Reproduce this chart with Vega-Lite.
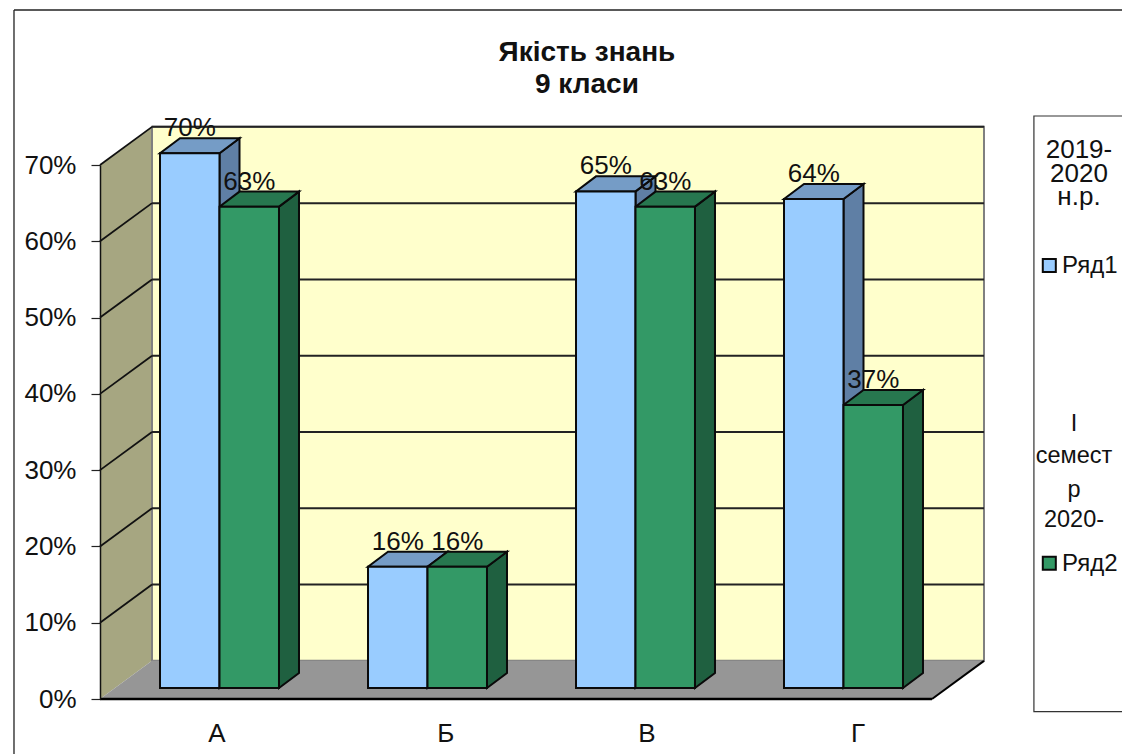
{
"$schema":"https://vega.github.io/schema/vega-lite/v6.json",
"width":1022,"height":534,
"autosize":{"type":"none"},
"padding":{"left":100,"top":165,"right":0,"bottom":55},
"background":"white",
"config":{"view":{"stroke":null},"axisX":{"disable":true},"text":{"font":"Liberation Sans"}},
"resolve":{"axis":{"y":"independent"}},
"datasets":{
"bars":[
{"class":"А","series":"Ряд1","value":0.701},
{"class":"А","series":"Ряд2","value":0.631},
{"class":"Б","series":"Ряд1","value":0.159},
{"class":"Б","series":"Ряд2","value":0.159},
{"class":"В","series":"Ряд1","value":0.651},
{"class":"В","series":"Ряд2","value":0.631},
{"class":"Г","series":"Ряд1","value":0.641},
{"class":"Г","series":"Ряд2","value":0.371}
],
"ticks":[{"v":0.1},{"v":0.2},{"v":0.3},{"v":0.4},{"v":0.5},{"v":0.6},{"v":0.7}],
"one":[{"n":1}],
"cats":[{"class":"А"},{"class":"Б"},{"class":"В"},{"class":"Г"}],
"titleLines":[{"k":0,"t":"Якість знань"},{"k":1,"t":"9 класи"}],
"legendText":[
{"k":0,"t":"2019-"},{"k":1,"t":"2020"},{"k":2,"t":"н.р."},
{"k":3,"t":"І"},{"k":4,"t":"семест"},{"k":5,"t":"р"},{"k":6,"t":"2020-"}
],
"legendEntries":[{"series":"Ряд1"},{"series":"Ряд2"}]
},
"layer":[
{"data":{"values":[{"c":0},{"c":1}]},
 "transform":[{"calculate":"datum.c*0.25","as":"px"},{"calculate":"datum.c*0.05","as":"a"},{"calculate":"0.7+datum.c*0.05","as":"b"}],
 "mark":{"type":"area","fill":"#A6A681"},
 "encoding":{
  "x":{"field":"px","type":"quantitative","scale":{"domain":[0,4.9135],"nice":false,"zero":false},"axis":null},
  "y":{"field":"a","type":"quantitative","scale":{"domain":[0,0.7],"nice":false,"zero":false},
   "axis":{"orient":"left","title":null,"values":[0,0.1,0.2,0.3,0.4,0.5,0.6,0.7],"format":".0%","labelFont":"Liberation Sans","labelFontSize":26,"labelColor":"#111","labelPadding":15,"tickSize":9,"tickColor":"#222","tickWidth":1.2,"domainColor":"#111","domainWidth":1.5,"grid":false,"zindex":1}},
  "y2":{"field":"b"}}},
{"data":{"name":"one"},"mark":{"type":"rect","fill":"#FFFFCC","stroke":"#808080","strokeWidth":2},
 "encoding":{"x":{"datum":0.25,"axis":null},"x2":{"datum":4.25},"y":{"datum":0.05,"axis":null},"y2":{"datum":0.75}}},
{"data":{"values":[{"c":0},{"c":1},{"c":2},{"c":3}]},
 "transform":[{"calculate":"[0,0.25,4,4.25][datum.c]","as":"px"},{"calculate":"[0,0,0,0.05][datum.c]","as":"a"},{"calculate":"[0,0.05,0.05,0.05][datum.c]","as":"b"}],
 "mark":{"type":"area","fill":"#969696"},
 "encoding":{"x":{"field":"px","type":"quantitative","axis":null},"y":{"field":"a","type":"quantitative","axis":null},"y2":{"field":"b"}}},
{"data":{"name":"ticks"},
 "transform":[{"calculate":"datum.v+0.05","as":"w"}],
 "mark":{"type":"rule","color":"#111","strokeWidth":1.8},
 "encoding":{"x":{"datum":0,"axis":null},"x2":{"datum":0.25},"y":{"field":"v","type":"quantitative","axis":null},"y2":{"field":"w"}}},
{"data":{"name":"ticks"},
 "transform":[{"calculate":"datum.v+0.05","as":"w"}],
 "mark":{"type":"rule","color":"#222","strokeWidth":2},
 "encoding":{"x":{"datum":0.25,"axis":null},"x2":{"datum":4.25},"y":{"field":"w","type":"quantitative","axis":null}}},
{"data":{"name":"one"},"mark":{"type":"rule","color":"#000","strokeWidth":2.5},
 "encoding":{"x":{"datum":0,"axis":null},"x2":{"datum":4},"y":{"datum":0,"axis":null}}},
{"data":{"name":"one"},"mark":{"type":"rule","color":"#000","strokeWidth":2},
 "encoding":{"x":{"datum":4,"axis":null},"x2":{"datum":4.25},"y":{"datum":0,"axis":null},"y2":{"datum":0.05}}},
{"data":{"name":"bars"},
 "transform":[
  {"calculate":"indexof(['А','Б','В','Г'],datum.class)+0.2885+(datum.series=='Ряд1'?0:0.286)","as":"left"},
  {"calculate":"datum.left+0.286","as":"right"},
  {"calculate":"datum.value+0.0144","as":"top"},
  {"calculate":"[0,1]","as":"c"},{"flatten":["c"]},
  {"calculate":"datum.right+datum.c*0.0962","as":"px"},
  {"calculate":"0.0144+datum.c*0.0197","as":"a"},
  {"calculate":"datum.top+datum.c*0.0197","as":"b"},
  {"calculate":"datum.series+' side'","as":"part"},
  {"calculate":"datum.class+datum.series","as":"key"}],
 "mark":{"type":"area","stroke":"#0a0a0a","strokeWidth":2},
 "encoding":{"x":{"field":"px","type":"quantitative","axis":null},"y":{"field":"a","type":"quantitative","axis":null},"y2":{"field":"b"},"detail":{"field":"key"},
  "fill":{"field":"part","type":"nominal","legend":null,"scale":{"domain":["Ряд1 front","Ряд1 top","Ряд1 side","Ряд2 front","Ряд2 top","Ряд2 side"],"range":["#99CCFF","#759CC6","#5F7FA5","#339966","#27774F","#1F6040"]}}}},
{"data":{"name":"bars"},
 "transform":[
  {"calculate":"indexof(['А','Б','В','Г'],datum.class)+0.2885+(datum.series=='Ряд1'?0:0.286)","as":"left"},
  {"calculate":"datum.value+0.0144","as":"top"},
  {"calculate":"[0,1,2,3]","as":"c"},{"flatten":["c"]},
  {"calculate":"datum.left+[0,0.0962,0.286,0.3822][datum.c]","as":"px"},
  {"calculate":"datum.top+[0,0,0,0.0197][datum.c]","as":"a"},
  {"calculate":"datum.top+[0,0.0197,0.0197,0.0197][datum.c]","as":"b"},
  {"calculate":"datum.series+' top'","as":"part"},
  {"calculate":"datum.class+datum.series","as":"key"}],
 "mark":{"type":"area","stroke":"#0a0a0a","strokeWidth":2},
 "encoding":{"x":{"field":"px","type":"quantitative","axis":null},"y":{"field":"a","type":"quantitative","axis":null},"y2":{"field":"b"},"detail":{"field":"key"},
  "fill":{"field":"part","type":"nominal","legend":null}}},
{"data":{"name":"bars"},
 "transform":[
  {"calculate":"indexof(['А','Б','В','Г'],datum.class)+0.2885+(datum.series=='Ряд1'?0:0.286)","as":"left"},
  {"calculate":"datum.left+0.286","as":"right"},
  {"calculate":"datum.value+0.0144","as":"top"},
  {"calculate":"0.0144","as":"base"},
  {"calculate":"datum.series+' front'","as":"part"}],
 "mark":{"type":"rect","stroke":"#0a0a0a","strokeWidth":2},
 "encoding":{"x":{"field":"left","type":"quantitative","axis":null},"x2":{"field":"right"},"y":{"field":"base","type":"quantitative","axis":null},"y2":{"field":"top"},
  "fill":{"field":"part","type":"nominal","legend":null}}},
{"data":{"name":"bars"},
 "transform":[
  {"calculate":"indexof(['А','Б','В','Г'],datum.class)+0.2885+(datum.series=='Ряд1'?0.143:0.429)","as":"mid"},
  {"calculate":"datum.value+0.0144+0.0223","as":"ly"}],
 "mark":{"type":"text","fontSize":26,"color":"#111","align":"center","baseline":"alphabetic"},
 "encoding":{"x":{"field":"mid","type":"quantitative","axis":null},"y":{"field":"ly","type":"quantitative","axis":null},"text":{"field":"value","type":"quantitative","format":".0%"}}},
{"data":{"name":"cats"},
 "transform":[{"calculate":"[0.5625,1.663,2.63,3.644][indexof(['А','Б','В','Г'],datum.class)]","as":"lx"},{"calculate":"-0.056","as":"ly"}],
 "mark":{"type":"text","fontSize":26,"color":"#111","align":"center","baseline":"alphabetic"},
 "encoding":{"x":{"field":"lx","type":"quantitative","axis":null},"y":{"field":"ly","type":"quantitative","axis":null},"text":{"field":"class"}}},
{"data":{"name":"titleLines"},
 "transform":[{"calculate":"2.341","as":"lx"},{"calculate":"datum.k==0?0.8363:0.794","as":"ly"}],
 "mark":{"type":"text","fontSize":28,"fontWeight":"bold","color":"#111","align":"center","baseline":"alphabetic"},
 "encoding":{"x":{"field":"lx","type":"quantitative","axis":null},"y":{"field":"ly","type":"quantitative","axis":null},"text":{"field":"t"}}},
{"data":{"name":"one"},"mark":{"type":"rule","color":"#222","strokeWidth":1.3},
 "encoding":{"x":{"datum":-0.4135,"axis":null},"x2":{"datum":4.9135},"y":{"datum":0.9032,"axis":null}}},
{"data":{"name":"one"},"mark":{"type":"rule","color":"#222","strokeWidth":1.3},
 "encoding":{"x":{"datum":-0.4135,"axis":null},"y":{"datum":0.9032,"axis":null},"y2":{"datum":-0.08}}},
{"data":{"name":"one"},"mark":{"type":"rect","fill":"white","stroke":"#333","strokeWidth":1.2},
 "encoding":{"x":{"datum":4.49,"axis":null},"x2":{"datum":5},"y":{"datum":0.7642,"axis":null},"y2":{"datum":-0.01665}}},
{"data":{"name":"legendText"},
 "transform":[
  {"calculate":"[4.7067,4.7067,4.7067,4.6827,4.6827,4.6827,4.6827][datum.k]","as":"lx"},
  {"calculate":"[0.7088,0.6773,0.6476,0.3517,0.3094,0.2648,0.2255][datum.k]","as":"ly"}],
 "mark":{"type":"text","color":"#111","align":"center","baseline":"alphabetic"},
 "encoding":{"x":{"field":"lx","type":"quantitative","axis":null},"y":{"field":"ly","type":"quantitative","axis":null},"text":{"field":"t"},"size":{"condition":{"test":"datum.k<3","value":26},"value":23.5}}},
{"data":{"name":"legendEntries"},
 "transform":[{"calculate":"4.564","as":"lx"},{"calculate":"datum.series=='Ряд1'?0.5683:0.1779","as":"ly"},{"calculate":"datum.series+' front'","as":"part"}],
 "mark":{"type":"point","shape":"square","filled":true,"size":170,"stroke":"#0a0a0a","strokeWidth":2,"opacity":1},
 "encoding":{"x":{"field":"lx","type":"quantitative","axis":null},"y":{"field":"ly","type":"quantitative","axis":null},"fill":{"field":"part","type":"nominal","legend":null}}},
{"data":{"name":"legendEntries"},
 "transform":[{"calculate":"4.625","as":"lx"},{"calculate":"datum.series=='Ряд1'?0.5584:0.1682","as":"ly"}],
 "mark":{"type":"text","fontSize":24,"color":"#111","align":"left","baseline":"alphabetic"},
 "encoding":{"x":{"field":"lx","type":"quantitative","axis":null},"y":{"field":"ly","type":"quantitative","axis":null},"text":{"field":"series"}}}
]
}
